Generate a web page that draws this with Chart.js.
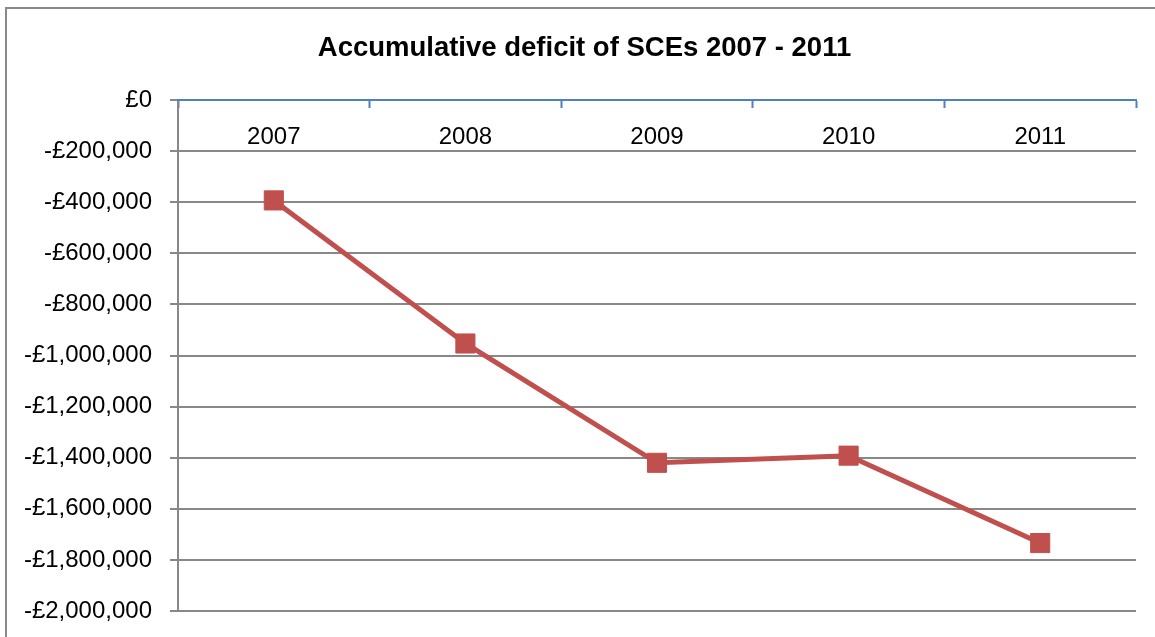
<!DOCTYPE html>
<html>
<head>
<meta charset="utf-8">
<script src="https://cdn.jsdelivr.net/npm/chart.js@4/dist/chart.umd.min.js"></script>
<style>
  html, body { margin: 0; padding: 0; background: #fff; overflow: hidden; }
  #frame { position: absolute; left: 5px; top: 7px; width: 1300px; height: 800px; border: 2px solid #8a8a8a; box-sizing: border-box; }
  #wrap { position: absolute; left: 0; top: 0; width: 1155px; height: 637px; }
</style>
</head>
<body>
<div id="frame"></div>
<div id="wrap"><canvas id="c"></canvas></div>
<script>
const years = ['2007', '2008', '2009', '2010', '2011'];
const deficit = [-393000, -953000, -1420000, -1392000, -1734000];
const yMin = -2000000;
const yMax = 0;
const yStep = 200000;
const titleText = 'Accumulative deficit of SCEs 2007 - 2011';

const FONT = '"Liberation Sans", Arial, sans-serif';
const GRID = '#888888';

function fmt(v) {
  if (v === 0) return '£0';
  const s = Math.abs(v).toLocaleString('en-GB');
  return (v < 0 ? '-£' : '£') + s;
}

const titlePlugin = {
  id: 'customTitle',
  afterDraw(chart) {
    const ctx = chart.ctx;
    ctx.save();
    ctx.fillStyle = '#000';
    ctx.font = 'bold 27.5px ' + FONT;
    ctx.textAlign = 'center';
    ctx.textBaseline = 'middle';
    ctx.fillText(titleText, 584.5, 48);
    ctx.restore();
  }
};

new Chart(document.getElementById('c'), {
  type: 'line',
  data: {
    labels: years,
    datasets: [{
      data: deficit,
      borderColor: '#c0504d',
      backgroundColor: '#c0504d',
      borderWidth: 5,
      pointStyle: 'rect',
      pointRadius: 13.5,
      pointHoverRadius: 13.5,
      pointBorderWidth: 1,
      pointBackgroundColor: '#c0504d',
      pointBorderColor: '#c0504d',
      tension: 0,
      fill: false
    }]
  },
  plugins: [titlePlugin],
  options: {
    responsive: true,
    maintainAspectRatio: false,
    animation: false,
    events: [],
    layout: { padding: { left: 0, right: 19, top: 100, bottom: 26 } },
    plugins: {
      legend: { display: false },
      tooltip: { enabled: false },
      title: { display: false }
    },
    scales: {
      x: {
        type: 'category',
        position: { y: 0 },
        offset: true,
        afterFit: (s) => { s.paddingLeft = 0; s.paddingRight = 0; },
        grid: {
          display: true,
          drawOnChartArea: false,
          drawTicks: true,
          tickLength: 7,
          tickColor: '#4f81bd',
          tickWidth: 2,
          offset: true
        },
        border: { display: true, color: '#4f81bd', width: 2, z: 1 },
        ticks: {
          color: '#000',
          font: { family: FONT, size: 24 },
          padding: 16,
          maxRotation: 0
        }
      },
      y: {
        position: 'left',
        min: yMin,
        max: yMax,
        afterFit: (s) => { s.width = 178; s.paddingTop = 0; s.paddingBottom = 0; },
        grid: {
          color: (ctx) => (ctx.tick && ctx.tick.value === 0) ? 'rgba(0,0,0,0)' : GRID,
          lineWidth: 2,
          tickColor: GRID,
          tickLength: 8,
          drawTicks: true
        },
        border: { display: true, color: GRID, width: 2 },
        ticks: {
          stepSize: yStep,
          color: '#000',
          font: { family: FONT, size: 24 },
          padding: 18,
          callback: (v) => fmt(v)
        }
      }
    }
  }
});
</script>
</body>
</html>
